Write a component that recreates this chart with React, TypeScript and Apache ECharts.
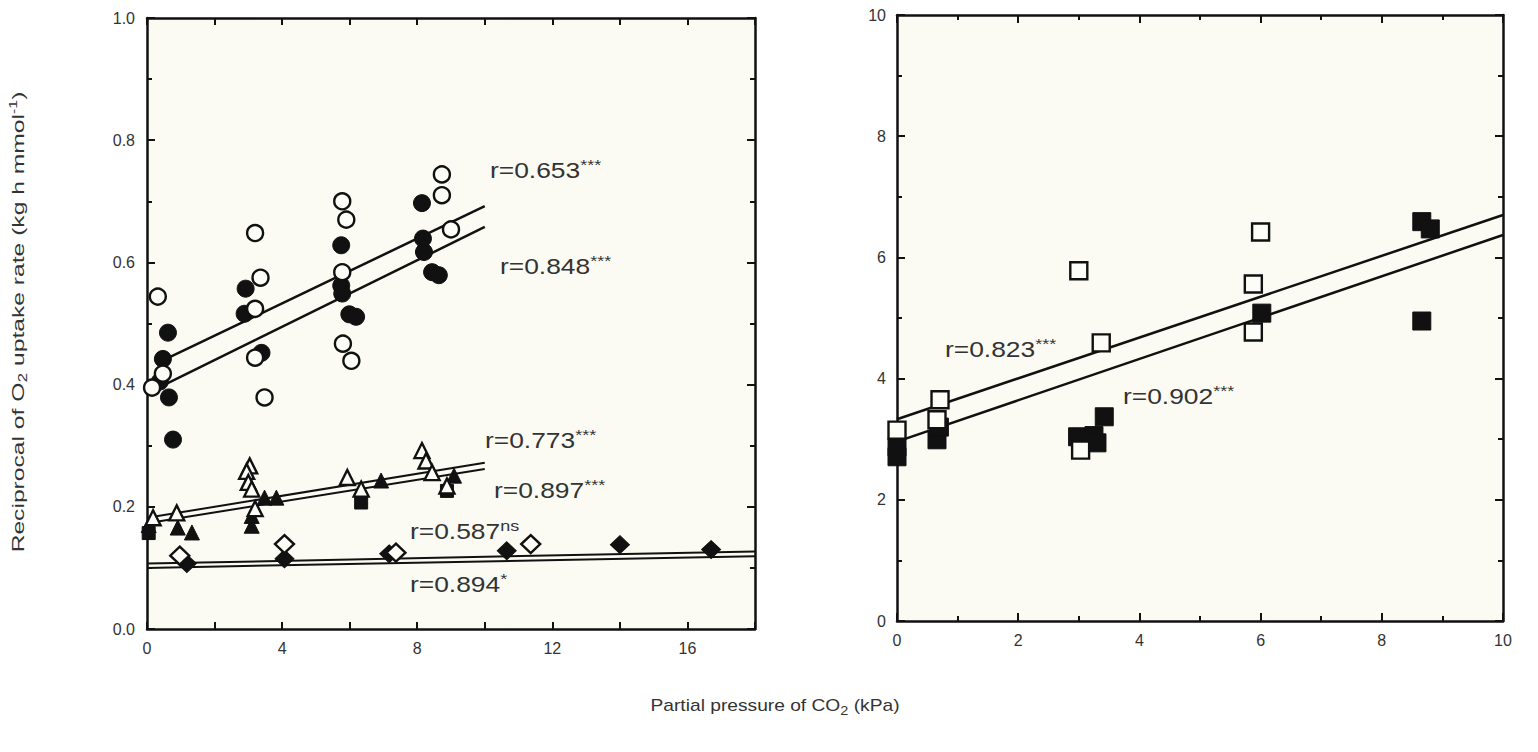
import React, { useEffect, useRef } from "react";
import * as echarts from "echarts";

// ---------- Left panel data (x: CO2 kPa, y: reciprocal O2 uptake) ----------
const openCircles = [
  [0.32, 0.544], [0.47, 0.418], [0.15, 0.395], [3.2, 0.648], [3.36, 0.575],
  [3.2, 0.524], [3.2, 0.444], [3.48, 0.379], [5.78, 0.7], [5.9, 0.67],
  [5.78, 0.584], [5.8, 0.467], [6.05, 0.439], [8.73, 0.744], [8.73, 0.71], [9.0, 0.654],
];
const filledCircles = [
  [0.62, 0.485], [0.47, 0.442], [0.38, 0.405], [0.65, 0.379], [0.77, 0.31],
  [2.92, 0.557], [2.89, 0.516], [3.39, 0.452], [5.75, 0.628], [5.75, 0.562],
  [5.78, 0.549], [5.99, 0.515], [6.19, 0.511], [8.14, 0.697], [8.17, 0.639],
  [8.2, 0.617], [8.44, 0.584], [8.64, 0.579],
];
const openTriangles = [
  [0.18, 0.182], [0.88, 0.19], [3.04, 0.267], [2.95, 0.258], [3.0, 0.24],
  [3.1, 0.229], [3.2, 0.197], [5.93, 0.248], [6.34, 0.229], [8.14, 0.292],
  [8.26, 0.275], [8.44, 0.256], [8.88, 0.234],
];
const filledTriangles = [
  [0.05, 0.17], [0.91, 0.166], [1.33, 0.158], [3.1, 0.169], [3.1, 0.185],
  [3.48, 0.215], [3.83, 0.215], [6.93, 0.243], [9.09, 0.251],
];
const filledSquaresLeft = [[0.05, 0.157], [6.34, 0.207], [8.88, 0.226]];
const openDiamonds = [[0.97, 0.12], [4.07, 0.139], [7.37, 0.125], [11.36, 0.139]];
const filledDiamonds = [
  [1.18, 0.107], [4.07, 0.115], [7.17, 0.123], [10.65, 0.128], [14.0, 0.138], [16.7, 0.13],
];
const circleFitA = [[0.3, 0.435], [10, 0.692]];
const circleFitB = [[0.3, 0.394], [10, 0.658]];
const triangleFitA = [[0, 0.182], [10, 0.272]];
const triangleFitB = [[0, 0.173], [10, 0.262]];
const diamondFitA = [[0, 0.107], [18, 0.127]];
const diamondFitB = [[0, 0.1], [18, 0.119]];

// ---------- Right panel data ----------
const openSquares = [
  [0, 3.15], [0.66, 3.32], [0.71, 3.65], [3.0, 5.78], [3.03, 2.82],
  [3.37, 4.59], [5.88, 5.56], [5.88, 4.77], [6.0, 6.42],
];
const filledSquares = [
  [0, 2.87], [0, 2.71], [0.66, 2.99], [0.7, 3.2], [2.98, 3.04], [3.25, 3.06],
  [3.3, 2.94], [3.42, 3.37], [6.02, 5.08], [8.66, 6.59], [8.8, 6.47], [8.66, 4.95],
];
const squareFitA = [[0, 3.33], [10, 6.7]];
const squareFitB = [[0, 2.96], [10, 6.37]];

// ---------- Tick values / labels ----------
const leftXLabels = [0, 4, 8, 12, 16];
const leftYTicks = { min: 0, max: 1, interval: 0.2 };
const rightTicks = { min: 0, max: 10, interval: 2 };

const annotations = [
  { main: "r=0.653", sup: "***", x: 490, y: 170 },
  { main: "r=0.848", sup: "***", x: 500, y: 266 },
  { main: "r=0.773", sup: "***", x: 485, y: 440 },
  { main: "r=0.897", sup: "***", x: 494, y: 490 },
  { main: "r=0.587", sup: "ns", x: 410, y: 531 },
  { main: "r=0.894", sup: "*", x: 410, y: 584 },
  { main: "r=0.823", sup: "***", x: 945, y: 349 },
  { main: "r=0.902", sup: "***", x: 1123, y: 396 },
];

const FONT = "Liberation Sans, Arial, sans-serif";
const INK = "#111";
const TXT = "#333";

function frameAxis(extra: any, showLabel: boolean) {
  return {
    type: "value",
    axisLine: { show: true, onZero: false, lineStyle: { color: INK, width: 2.5 } },
    axisTick: { show: true, inside: true, length: 8, lineStyle: { color: INK, width: 2 } },
    minorTick: { show: true, splitNumber: 2, length: 5, lineStyle: { color: INK, width: 2 } },
    splitLine: { show: false },
    axisLabel: {
      show: showLabel,
      color: TXT,
      fontFamily: FONT,
      fontSize: 16,
      margin: 11,
    },
    ...extra,
  };
}

function scatter(data: number[][], symbol: string, size: any, filled: boolean, xi: number, yi: number) {
  return {
    type: "scatter",
    xAxisIndex: xi,
    yAxisIndex: yi,
    data,
    symbol,
    symbolSize: size,
    itemStyle: filled
      ? { color: INK, borderColor: INK, borderWidth: 1, opacity: 1 }
      : { color: "#fdfdf8", borderColor: INK, borderWidth: 2.4, opacity: 1 },
    emphasis: { disabled: true },
    z: filled ? 3 : 4,
  };
}

function fit(data: number[][], xi: number, yi: number, width = 2.5) {
  return {
    type: "line",
    xAxisIndex: xi,
    yAxisIndex: yi,
    data,
    symbol: "none",
    lineStyle: { color: INK, width },
    z: 2,
  };
}

export default function App() {
  const ref = useRef<HTMLDivElement>(null);
  useEffect(() => {
    const chart = echarts.init(ref.current!, null, { renderer: "svg" });
    const leftX = { min: 0, max: 18, interval: 2 };
    const option: any = {
      animation: false,
      backgroundColor: "#ffffff",
      grid: [
        { left: 147, top: 18, width: 608, height: 611, show: true, backgroundColor: "#fbfbf3", borderWidth: 0 },
        { left: 897, top: 15, width: 606, height: 606, show: true, backgroundColor: "#fbfbf3", borderWidth: 0 },
      ],
      xAxis: [
        frameAxis({
          gridIndex: 0, position: "bottom", ...leftX,
          axisTick: { show: true, inside: true, length: 7, lineStyle: { color: INK, width: 2 } },
          minorTick: { show: false },
          axisLabel: {
            color: TXT, fontFamily: FONT, fontSize: 16, margin: 11,
            formatter: (v: number) => (leftXLabels.includes(v) ? String(v) : ""),
          },
        }, true),
        frameAxis({
          gridIndex: 0, position: "top", ...leftX,
          axisTick: { show: true, inside: true, length: 7, lineStyle: { color: INK, width: 2 } },
          minorTick: { show: false },
        }, false),
        frameAxis({ gridIndex: 1, position: "bottom", ...rightTicks }, true),
        frameAxis({ gridIndex: 1, position: "top", ...rightTicks }, false),
      ],
      yAxis: [
        frameAxis({
          gridIndex: 0, position: "left", ...leftYTicks,
          axisLabel: {
            color: TXT, fontFamily: FONT, fontSize: 16, margin: 12,
            formatter: (v: number) => v.toFixed(1),
          },
        }, true),
        frameAxis({ gridIndex: 0, position: "right", ...leftYTicks }, false),
        frameAxis({ gridIndex: 1, position: "left", ...rightTicks }, true),
        frameAxis({ gridIndex: 1, position: "right", ...rightTicks }, false),
      ],
      series: [
        fit(circleFitA, 0, 0),
        fit(circleFitB, 0, 0),
        fit(triangleFitA, 0, 0, 2),
        fit(triangleFitB, 0, 0, 2),
        fit(diamondFitA, 0, 0, 2),
        fit(diamondFitB, 0, 0, 2),
        scatter(filledCircles, "circle", 17, true, 0, 0),
        scatter(openCircles, "circle", 16, false, 0, 0),
        scatter(filledTriangles, "triangle", 15, true, 0, 0),
        scatter(filledSquaresLeft, "rect", 13, true, 0, 0),
        scatter(openTriangles, "triangle", 15, false, 0, 0),
        scatter(filledDiamonds, "diamond", [19, 18], true, 0, 0),
        scatter(openDiamonds, "diamond", [19, 18], false, 0, 0),
        fit(squareFitA, 2, 2),
        fit(squareFitB, 2, 2),
        scatter(filledSquares, "rect", 18, true, 2, 2),
        scatter(openSquares, "rect", 17, false, 2, 2),
      ],
      graphic: [
        ...annotations.map((a) => ({
          type: "text",
          x: a.x,
          y: a.y,
          scaleX: 1.2,
          z: 10,
          style: {
            text: `{m|${a.main}}{s|${a.sup}}`,
            verticalAlign: "middle",
            rich: {
              m: { fontFamily: FONT, fontSize: 22, fill: TXT, color: TXT },
              s: { fontFamily: FONT, fontSize: 15, fill: TXT, color: TXT, verticalAlign: "top", padding: [0, 0, 10, 0] },
            },
          },
        })),
        {
          type: "text",
          x: 18,
          y: 322,
          rotation: Math.PI / 2,
          scaleX: 1.45,
          style: {
            text: "{n|Reciprocal of O}{b|2}{n| uptake rate (kg h mmol}{p|-1}{n|)}",
            align: "center",
            verticalAlign: "middle",
            rich: {
              n: { fontFamily: FONT, fontSize: 17, fill: TXT, color: TXT },
              b: { fontFamily: FONT, fontSize: 12, fill: TXT, color: TXT, padding: [9, 0, 0, 0] },
              p: { fontFamily: FONT, fontSize: 11, fill: TXT, color: TXT, padding: [0, 0, 9, 0] },
            },
          },
        },
        {
          type: "text",
          x: 775,
          y: 706,
          scaleX: 1.2,
          style: {
            text: "{n|Partial pressure of CO}{b|2}{n| (kPa)}",
            align: "center",
            verticalAlign: "middle",
            rich: {
              n: { fontFamily: FONT, fontSize: 16, fill: TXT, color: TXT },
              b: { fontFamily: FONT, fontSize: 12, fill: TXT, color: TXT, padding: [9, 0, 0, 0] },
            },
          },
        },
      ],
    };
    chart.setOption(option);
    return () => chart.dispose();
  }, []);
  return (
    <div
      ref={ref}
      style={{ position: "absolute", left: 0, top: 0, width: 1538, height: 752 }}
    />
  );
}
